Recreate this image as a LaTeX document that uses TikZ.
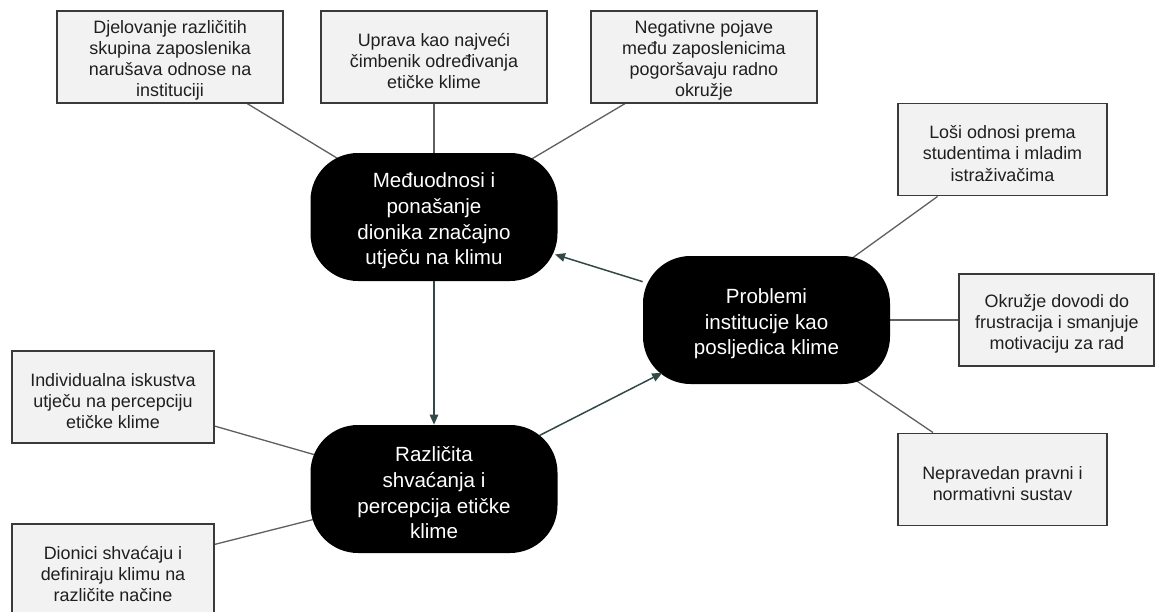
\documentclass[tikz,border=0pt]{standalone}
\usepackage{fontspec}
\setmainfont{Liberation Sans}
\usetikzlibrary{arrows.meta, positioning, backgrounds}
\definecolor{boxbg}{HTML}{F2F2F2}
\definecolor{boxline}{HTML}{3A3A3A}
\definecolor{boxtext}{HTML}{1F1F1F}
\definecolor{linkgray}{HTML}{606060}
\definecolor{flow}{HTML}{2F4A47}
\tikzset{
    topictext/.style={align=center, text=white, yshift=-0.08cm,
                      font=\fontsize{11.7}{14.6}\selectfont},
    detailtext/.style={align=center, text=boxtext, yshift=-0.08cm,
                       font=\fontsize{10.2}{12}\selectfont},
    topic/.style={rectangle, rounded corners=0.95cm, fill=black,
                  minimum width=4.94cm, minimum height=2.56cm, inner sep=2pt,
                  label={[topictext]center:{#1}}},
    detail/.style={rectangle, draw=boxline, fill=boxbg, line width=1.1pt,
                   minimum width=4.52cm, minimum height=1.84cm, inner sep=2pt,
                   label={[detailtext]center:{#1}}},
    link/.style={draw=linkgray, line width=0.75pt},
    flowarr/.style={-{Triangle[length=0.2cm, width=0.17cm]}, draw=flow, line width=0.85pt},
}

\begin{document}
\begin{tikzpicture}

  \useasboundingbox (0,-12.24) rectangle (23.12,0);

  \node[topic={Međuodnosi i\\ponašanje\\dionika značajno\\utječu na klimu}]
        (mid) at (8.68,-4.34) {};
  \node[topic={Problemi\\institucije kao\\posljedica klime}]
        (prob) at (15.33,-6.40) {};
  \node[topic={Različita\\shvaćanja i\\percepcija etičke\\klime}]
        (view) at (8.68,-9.78) {};

  \node[detail={Uprava kao najveći\\čimbenik određivanja\\etičke klime},
        above=0.98cm of mid] (mgmt) {};
  \node[detail={Djelovanje različitih\\skupina zaposlenika\\narušava odnose na\\instituciji},
        left=0.72cm of mgmt] (groups) {};
  \node[detail={Negativne pojave\\među zaposlenicima\\pogoršavaju radno\\okružje},
        right=0.84cm of mgmt] (neg) {};

  \node[detail={Loši odnosi prema\\studentima i mladim\\istraživačima},
        minimum width=4.18cm] (young) at (20.05,-2.99) {};
  \node[detail={Okružje dovodi do\\frustracija i smanjuje\\motivaciju za rad},
        minimum width=3.9cm, right=1.36cm of prob] (frust) {};
  \node[detail={Nepravedan pravni i\\normativni sustav},
        minimum width=4.18cm] (legal) at (20.05,-9.59) {};

  \node[detail={Individualna iskustva\\utječu na percepciju\\etičke klime},
        minimum width=4.04cm] (indiv) at (2.26,-7.94) {};
  \node[detail={Dionici shvaćaju i\\definiraju klimu na\\različite načine},
        minimum width=4.04cm] (define) at (2.26,-11.40) {};

  % plain links run under the black topics
  \begin{scope}[on background layer]
    \draw[link] (groups) -- (mid.center);
    \draw[link] (mgmt) -- (mid.center);
    \draw[link] (neg) -- (mid.center);
    \draw[link] (young) -- (prob.center);
    \draw[link] (frust) -- (prob.center);
    \draw[link] (legal) -- (prob.center);
    \draw[link] (indiv) -- (view.center);
    \draw[link] (define) -- (view.center);
  \end{scope}

  \draw[flowarr] (mid) -- (view);
  \draw[flowarr, shorten >=-0.06cm] (prob) -- (mid);
  \draw[flowarr, shorten <=-0.41cm, shorten >=-0.44cm] (view) -- (prob);

\end{tikzpicture}
\end{document}
